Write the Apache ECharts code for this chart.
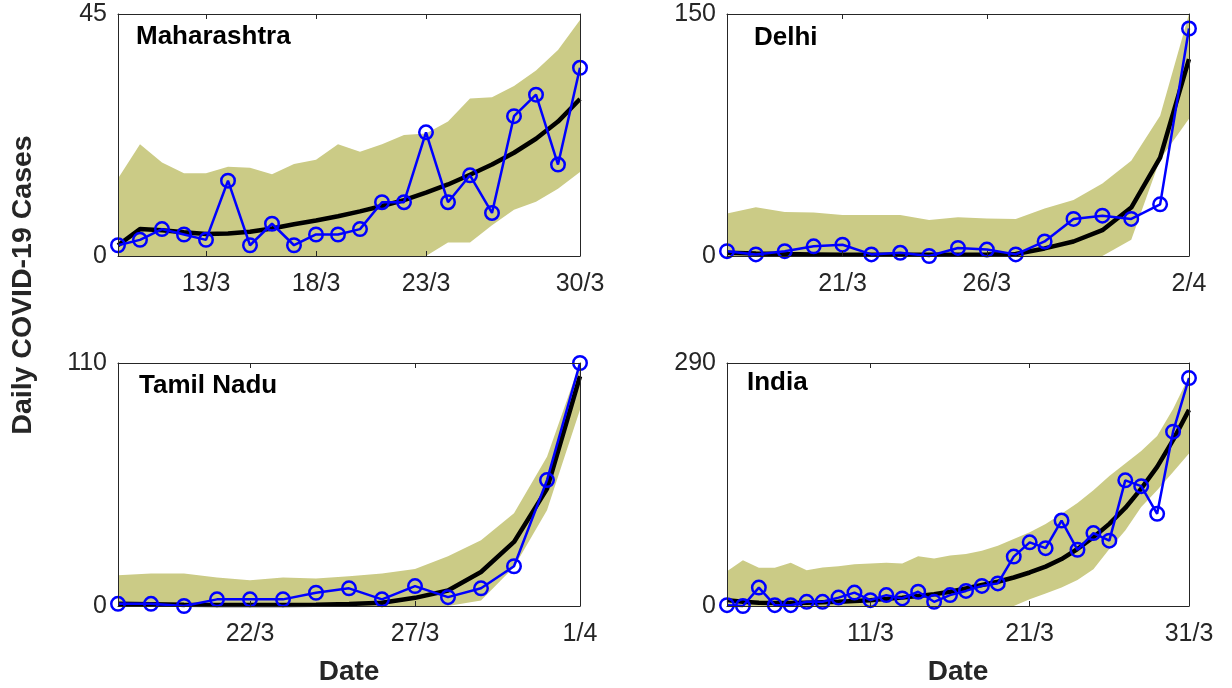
<!DOCTYPE html>
<html>
<head>
<meta charset="utf-8">
<script src="https://cdn.jsdelivr.net/npm/echarts@6/dist/echarts.min.js"></script>
<style>
html,body{margin:0;padding:0;background:#fff;}
#chart{width:1232px;height:688px;}
</style>
</head>
<body>
<div id="chart"></div>
<script>
// ---- Maharashtra ----
const mhDates = ['9/3','10/3','11/3','12/3','13/3','14/3','15/3','16/3','17/3','18/3','19/3','20/3','21/3','22/3','23/3','24/3','25/3','26/3','27/3','28/3','29/3','30/3'];
const mhTicks = ['13/3','18/3','23/3','30/3'];
const mhCases = [2,3,5,4,3,14,2,6,2,4,4,5,10,10,23,10,15,8,26,30,17,35];
const mhFit   = [2,5,4.8,4.4,4.1,4.2,4.5,5.1,5.9,6.6,7.4,8.3,9.3,10.4,11.8,13.3,15.1,17,19.2,21.8,25,29.2];
const mhUpper = [14.4,20.8,17.4,15.4,15.4,16.6,16.4,15.2,17.1,17.9,20.8,19.4,20.8,22.5,22.8,25,29.3,29.5,31.6,34.5,38.3,43.9];
const mhLower = [0,0,0,0,0,0,0,0,0,0,0,0,0,0,0,2.5,2.5,5.7,8.6,10.1,12.5,15.6];
const mhMax = 45;

// ---- Delhi ----
const dlDates = ['17/3','18/3','19/3','20/3','21/3','22/3','23/3','24/3','25/3','26/3','27/3','28/3','29/3','30/3','31/3','1/4','2/4'];
const dlTicks = ['21/3','26/3','2/4'];
const dlCases = [3,1,3,6,7,1,2,0,5,4,1,9,23,25,23,32,141];
const dlFit   = [2,1.5,1.2,1,0.8,0.7,0.7,0.7,0.8,0.9,1.2,4.7,9,16,30,61,122];
const dlUpper = [26.4,30.2,27.3,26.9,25.4,25.4,25.4,22.3,24,23.3,23,29.5,34.7,45,59,87,150];
const dlLower = [0,0,0,0,0,0,0,0,0,0,0,0,0,0,10,60,85];
const dlMax = 150;

// ---- Tamil Nadu ----
const tnDates = ['18/3','19/3','20/3','21/3','22/3','23/3','24/3','25/3','26/3','27/3','28/3','29/3','30/3','31/3','1/4'];
const tnTicks = ['22/3','27/3','1/4'];
const tnCases = [1,1,0,3,3,3,6,8,3,9,4,8,18,57,110];
const tnFit   = [1,0.8,0.6,0.5,0.5,0.5,0.6,0.9,1.5,3.7,7,15.4,29,53,104];
const tnUpper = [13.9,14.7,14.7,12.9,11.6,12.9,12.4,13.5,14.7,16.8,22.5,29.8,42,67.6,110];
const tnLower = [0,0,0,0,0,0,0,0,0,0,0,2.5,17.7,43.4,88.8];
const tnMax = 110;

// ---- India ----
const inDates = ['2/3','3/3','4/3','5/3','6/3','7/3','8/3','9/3','10/3','11/3','12/3','13/3','14/3','15/3','16/3','17/3','18/3','19/3','20/3','21/3','22/3','23/3','24/3','25/3','26/3','27/3','28/3','29/3','30/3','31/3'];
const inTicks = ['11/3','21/3','31/3'];
const inCases = [1,0,22,1,1,5,5,10,16,7,13,9,17,5,13,18,24,27,59,76,69,102,67,87,78,150,143,110,208,272];
const inFit   = [7,5,4,3.5,3.5,4,4.5,5,6,7,8.5,10,12,14,17,21,25,29,34,40,47,56,68,82,98,117,140,166,198,234];
const inUpper = [41.5,54.6,45.5,45.5,51.5,42.7,45.9,47.5,49.9,50.7,51.5,50.7,59.4,56.6,60.2,62,66,72,80,88,98,110,123,138,155,170,185,203,235,274];
const inLower = [0,0,0,0,0,0,0,0,0,0,0,0,0,0,0,0,0,0,0,8,15,22,31,44,68,90,118,138,160,182];
const inMax = 290;

const panels = [
  {name:'Maharashtra', dates:mhDates, ticks:mhTicks, cases:mhCases, fit:mhFit, upper:mhUpper, lower:mhLower, max:mhMax},
  {name:'Delhi', dates:dlDates, ticks:dlTicks, cases:dlCases, fit:dlFit, upper:dlUpper, lower:dlLower, max:dlMax},
  {name:'Tamil Nadu', dates:tnDates, ticks:tnTicks, cases:tnCases, fit:tnFit, upper:tnUpper, lower:tnLower, max:tnMax},
  {name:'India', dates:inDates, ticks:inTicks, cases:inCases, fit:inFit, upper:inUpper, lower:inLower, max:inMax}
];

const gridPos = [
  {left:118, top:14, width:462, height:242},
  {left:727, top:14, width:462, height:242},
  {left:118, top:363, width:462, height:243},
  {left:727, top:363, width:462, height:243}
];
const titlePos = [[136,39],[754,40],[139,388],[747,385]];

const AX = '#262626';
const FONT = '"Liberation Sans", Arial, sans-serif';
const BAND = '#CBCB86';

const grids = [], xAxes = [], yAxes = [], series = [], graphics = [];
panels.forEach((p, i) => {
  grids.push(Object.assign({containLabel:false}, gridPos[i]));
  const tickFn = (idx, val) => p.ticks.indexOf(val) >= 0;
  xAxes.push({
    type:'category', gridIndex:i, data:p.dates, boundaryGap:false, position:'bottom', z:10,
    axisLine:{show:true, onZero:false, lineStyle:{color:AX, width:1}},
    axisTick:{show:true, inside:true, length:5, interval:tickFn, lineStyle:{color:AX}},
    axisLabel:{show:true, interval:tickFn, margin:16, color:AX, fontSize:25, fontFamily:FONT},
    splitLine:{show:false}
  });
  xAxes.push({
    type:'category', gridIndex:i, data:p.dates, boundaryGap:false, position:'top', z:10,
    axisLine:{show:true, onZero:false, lineStyle:{color:AX, width:1}},
    axisTick:{show:true, inside:true, length:5, interval:tickFn, lineStyle:{color:AX}},
    axisLabel:{show:false}, splitLine:{show:false}
  });
  yAxes.push({
    type:'value', gridIndex:i, min:0, max:p.max, interval:p.max, position:'left', z:10,
    axisLine:{show:true, lineStyle:{color:AX, width:1}},
    axisTick:{show:false},
    axisLabel:{show:true, margin:11, color:AX, fontSize:25, fontFamily:FONT},
    splitLine:{show:false}
  });
  yAxes.push({
    type:'value', gridIndex:i, min:0, max:p.max, interval:p.max, position:'right', z:10,
    axisLine:{show:true, lineStyle:{color:AX, width:1}},
    axisTick:{show:false}, axisLabel:{show:false}, splitLine:{show:false}
  });
  const xi = 2*i, yi = 2*i;
  series.push({
    type:'line', xAxisIndex:xi, yAxisIndex:yi, stack:'band'+i, data:p.lower,
    symbol:'none', lineStyle:{opacity:0, width:0}, silent:true, z:1
  });
  series.push({
    type:'line', xAxisIndex:xi, yAxisIndex:yi, stack:'band'+i,
    data:p.upper.map((u, k) => +(u - p.lower[k]).toFixed(2)),
    symbol:'none', lineStyle:{opacity:0, width:0}, areaStyle:{color:BAND, opacity:1}, silent:true, z:1
  });
  series.push({
    type:'line', xAxisIndex:xi, yAxisIndex:yi, data:p.fit,
    symbol:'none', lineStyle:{color:'#000', width:4.5}, silent:true, z:3
  });
  series.push({
    type:'line', xAxisIndex:xi, yAxisIndex:yi, data:p.cases, clip:false,
    symbol:'circle', symbolSize:13.5, showAllSymbol:true,
    lineStyle:{color:'#0000FF', width:2.5},
    itemStyle:{color:'rgba(0,0,0,0)', borderColor:'#0000FF', borderWidth:2.5},
    silent:true, z:4
  });
  graphics.push({
    type:'text', left:titlePos[i][0], top:titlePos[i][1]-15, z:20,
    style:{text:p.name, fill:'#000', font:'bold 26px ' + FONT}
  });
});

graphics.push({
  type:'text', x:23, y:285, rotation:Math.PI/2, z:20,
  style:{text:'Daily COVID-19 Cases', fill:AX, font:'bold 28.5px ' + FONT, align:'center', verticalAlign:'middle'}
});
graphics.push({
  type:'text', x:349, y:672, z:20,
  style:{text:'Date', fill:AX, font:'bold 28px ' + FONT, align:'center', verticalAlign:'middle'}
});
graphics.push({
  type:'text', x:958, y:672, z:20,
  style:{text:'Date', fill:AX, font:'bold 28px ' + FONT, align:'center', verticalAlign:'middle'}
});

const chart = echarts.init(document.getElementById('chart'), null, {renderer:'canvas'});
chart.setOption({
  animation:false,
  backgroundColor:'#fff',
  grid:grids, xAxis:xAxes, yAxis:yAxes, series:series, graphic:graphics
});
</script>
</body>
</html>
